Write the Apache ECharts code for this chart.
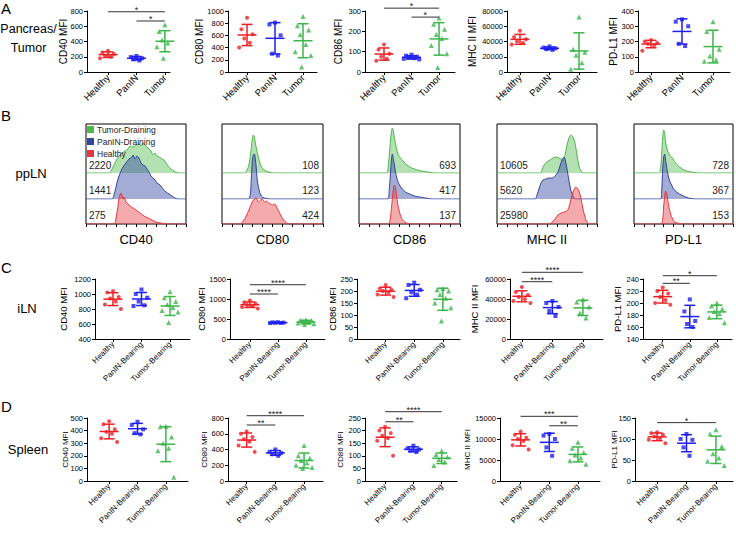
<!DOCTYPE html>
<html><head><meta charset="utf-8">
<script src="https://cdn.jsdelivr.net/npm/echarts@6/dist/echarts.min.js"></script>
<style>html,body{margin:0;padding:0;background:#fff}#c{width:736px;height:535px}</style>
</head><body><div id="c"></div>
<script>
// ================= DATA =================
const catsA = ['Healthy', 'PanIN', 'Tumor'];
const catsCD = ['Healthy', 'PanIN-Bearing', 'Tumor-Bearing'];

// Row A: Pancreas/Tumor  [Healthy, PanIN, Tumor]
const a_cd40 = [[280,255,235,215,200,180],[210,195,180,165,150],[620,530,470,420,380,330,300,180]];
const a_cd80 = [[890,700,620,550,480,400],[810,780,600,300,270],[910,760,690,610,450,330,270,80]];
const a_cd86 = [[135,110,90,75,65,55],[85,80,75,70,68,65,62],[265,235,210,185,165,130,90,22]];
const a_mhc  = [[54000,46000,43000,40000,38000,36000],[33500,32000,31000,30000,29000],[72000,30000,26000,22000,12000,3500]];
const a_pdl1 = [[210,200,190,185,175,140],[345,330,300,185,170],[330,265,150,105,80,70]];

// Row C: iLN
const c_cd40 = [[1040,1020,960,940,900,860,800],[1060,1000,950,900,850,840],[1030,950,900,860,820,780,760,620]];
const c_cd80 = [[960,920,880,850,830,800,760],[420,415,410,405,400,398],[480,470,460,430,420,400,380,360]];
const c_cd86 = [[225,210,205,200,195,185,175],[235,225,205,195,185,170],[210,205,200,185,170,150,130,75]];
const c_mhc  = [[52000,47000,44000,42000,40000,38000,36000],[38000,36000,32000,28000,23000],[39500,37000,32000,26000,21000]];
const c_pdl1 = [[226,220,216,210,205,200,197],[206,186,170,165,160],[200,195,190,186,182,176,167]];

// Row D: Spleen
const d_cd40 = [[475,450,410,390,375,340,310],[470,445,410,380,370],[435,430,350,300,260,240,30]];
const d_cd80 = [[630,600,560,530,500,450,370],[400,370,355,340,320],[450,320,290,260,230,200,170,160]];
const d_cd86 = [[215,200,190,180,170,160,100],[140,130,125,120,115],[120,105,95,85,75,62]];
const d_mhc  = [[11800,11000,10300,10000,9500,8500,7500],[11200,10800,10000,8000,6000],[9200,7800,6800,6200,5500,4800,4000]];
const d_pdl1 = [[116,114,110,106,102,98,90],[112,100,98,80,60],[122,112,82,65,55,47,37]];

// significance brackets: [fromGroup, toGroup, yValue, stars]
const a_cd40_sig = [[1,3,790,'*'],[2,3,669,'*']];
const a_cd86_sig = [[1,3,314,'*'],[2,3,270,'*']];
const c_cd80_sig = [[1,3,1357,'****'],[1,2,1125,'****']];
const c_mhc_sig  = [[1,3,66700,'****'],[1,2,57300,'****']];
const c_pdl1_sig = [[1,3,245.5,'*'],[1,2,232.8,'**']];
const d_cd80_sig = [[1,3,829,'****'],[1,2,711,'**']];
const d_cd86_sig = [[1,3,275,'****'],[1,2,235,'**']];
const d_mhc_sig  = [[1,3,15400,'***'],[2,3,13150,'**']];
const d_pdl1_sig = [[1,3,139,'*']];

// y axis ticks: [min, max, interval]
const a_ticks = [[0,800,200],[0,1000,200],[0,300,100],[0,80000,20000],[0,400,100]];
const c_ticks = [[400,1200,200],[0,1500,500],[0,250,50],[0,60000,20000],[140,240,20]];
const d_ticks = [[0,500,100],[0,800,200],[0,250,50],[0,15000,5000],[0,150,50]];
const axisNames = ['CD40 MFI','CD80 MFI','CD86 MFI','MHC II MFI','PD-L1 MFI'];

// Row B: ppLN histograms, [x (0-100 across box), height]
const h_cd40_tumor = [[0,0],[23,0],[25,2],[27,6],[30,12],[33,17],[36,20],[39,22],[42,24],[44,27],[47,26],[50,28],[53,29],[55,27],[57,30],[59,28],[61,26],[63,24],[65,22],[67,18],[69,20],[71,17],[73,16],[76,14],[78,13],[80,10],[82,7],[85,4],[88,2],[92,0],[100,0]];
const h_cd40_panin = [[0,0],[26,0],[28,4],[30,12],[32,20],[35,28],[37,32],[40,36],[43,40],[46,42],[47,44],[49,40],[51,43],[53,41],[55,36],[57,34],[59,33],[61,30],[63,27],[65,23],[67,21],[69,19],[71,16],[74,14],[77,10],[80,7],[83,5],[86,3],[89,1],[92,0],[100,0]];
const h_cd40_healthy = [[0,0],[28,0],[30,6],[32,18],[33,26],[35,31],[36,29],[37,25],[38,27],[40,22],[42,20],[44,18],[47,16],[50,14],[54,11],[58,8],[62,6],[66,4],[70,2],[75,1],[80,0],[100,0]];

const h_cd80_tumor = [[0,0],[22,0],[25,3],[27,10],[29,25],[30,34],[31,38],[32,36],[33,30],[35,20],[37,12],[39,6],[42,3],[46,1],[52,0],[100,0]];
const h_cd80_panin = [[0,0],[26,0],[28,5],[29,20],[30,38],[31,44],[32,45],[33,40],[34,30],[35,18],[37,8],[39,3],[42,1],[48,0],[100,0]];
const h_cd80_healthy = [[0,0],[18,0],[21,3],[24,8],[27,15],[30,22],[32,25],[34,26],[36,22],[38,24],[40,25],[42,22],[44,23],[46,21],[48,20],[50,19],[52,20],[55,15],[58,9],[61,4],[64,1],[68,0],[100,0]];

const h_cd86_tumor = [[0,0],[27,0],[29,8],[31,30],[32,40],[33,45],[34,42],[35,35],[37,25],[39,18],[41,15],[43,13],[46,9],[49,7],[52,5],[55,4],[58,3],[62,2],[68,1],[75,0],[100,0]];
const h_cd86_panin = [[0,0],[28,0],[30,10],[32,38],[33,45],[34,40],[36,28],[38,19],[40,14],[43,10],[46,7],[50,5],[55,3],[60,2],[66,1],[72,0],[100,0]];
const h_cd86_healthy = [[0,0],[29,0],[31,6],[33,25],[34,35],[35,39],[36,37],[37,30],[38,22],[40,12],[42,6],[44,3],[47,1],[52,0],[100,0]];

const h_mhc_tumor = [[0,0],[43,0],[45,3],[47,8],[50,11],[53,13],[56,15],[59,16],[62,15],[64,14],[66,12],[68,18],[70,28],[72,35],[74,38],[76,36],[78,30],[80,18],[82,7],[84,2],[87,0],[100,0]];
const h_mhc_panin = [[0,0],[38,0],[40,4],[42,10],[44,16],[46,19],[49,20],[52,21],[55,21],[58,23],[61,27],[63,33],[65,39],[67,42],[68,40],[70,30],[72,18],[74,8],[76,3],[78,0],[100,0]];
const h_mhc_healthy = [[0,0],[52,0],[55,2],[58,5],[61,9],[64,11],[67,12],[70,13],[72,17],[74,25],[76,32],[78,36],[79,37],[80,36],[82,33],[84,25],[86,15],[88,7],[90,2],[93,0],[100,0]];

const h_pdl1_tumor = [[0,0],[25,0],[27,6],[28,20],[29,35],[30,43],[31,40],[32,30],[34,22],[36,18],[38,16],[40,13],[42,10],[44,8],[46,6],[49,4],[53,2],[58,1],[65,0],[100,0]];
const h_pdl1_panin = [[0,0],[27,0],[28,8],[29,30],[30,42],[31,45],[32,38],[34,26],[36,18],[38,14],[40,10],[43,7],[46,5],[50,3],[55,1],[62,0],[100,0]];
const h_pdl1_healthy = [[0,0],[27,0],[29,5],[30,18],[31,28],[32,33],[33,31],[34,25],[35,18],[37,10],[39,5],[41,2],[44,1],[48,0],[100,0]];

const histMarkers = ['CD40','CD80','CD86','MHC II','PD-L1'];
const histMFI = [['2220','1441','275'],['108','123','424'],['693','417','137'],['10605','5620','25980'],['728','367','153']];
const histLegend = ['Tumor-Draining','PanIN-Draining','Healthy'];

// ================= LAYOUT / STYLE =================
const FONT = 'Liberation Sans, Arial, Helvetica, sans-serif';
const groupColors = ['#f01e23','#1e1ef0','#3ab54a'];
const groupSymbols = ['circle','rect','triangle'];
const jit = [0,-0.2,0.2,-0.1,0.1,-0.28,0.28,-0.05];

const rowA = {top:11, height:61, cats:catsA, tickFont:7.5, catFont:9.5, nameFont:10};
const rowC = {top:279, height:60, cats:catsCD, tickFont:7.5, catFont:8, nameFont:9.5};
const rowD = {top:418, height:63, cats:catsCD, tickFont:7.5, catFont:8, nameFont:8};

const panelsA = [
  {x:[87,170], xr:[0.26,3.18], gap:19, data:a_cd40, sig:a_cd40_sig},
  {x:[228,317], xr:[0.32,3.5], gap:24, data:a_cd80},
  {x:[365,455], xr:[0.31,3.58], gap:22, data:a_cd86, sig:a_cd86_sig},
  {x:[507,597], xr:[0.56,3.61], gap:30, data:a_mhc},
  {x:[638,730], xr:[0.58,3.55], gap:20, data:a_pdl1}
];
const panelsC = [
  {x:[95,190], xr:[0.37,3.7], gap:27, data:c_cd40},
  {x:[230,325], xr:[0.29,3.68], gap:24, data:c_cd80, sig:c_cd80_sig},
  {x:[357,460], xr:[0.0,3.6], gap:20, data:c_cd86},
  {x:[510,603], xr:[0.61,3.66], gap:31, data:c_mhc, sig:c_mhc_sig},
  {x:[643,732], xr:[0.27,3.56], gap:21, data:c_pdl1, sig:c_pdl1_sig}
];
const panelsD = [
  {x:[87,188], xr:[0.22,3.78], gap:18, data:d_cd40},
  {x:[228,323], xr:[0.35,3.66], gap:20, data:d_cd80, sig:d_cd80_sig},
  {x:[365,457], xr:[0.29,3.54], gap:21, data:d_cd86, sig:d_cd86_sig},
  {x:[500,600], xr:[0.28,3.77], gap:29, data:d_mhc, sig:d_mhc_sig},
  {x:[635,733], xr:[0.25,3.58], gap:17, data:d_pdl1, sig:d_pdl1_sig}
];

const boxes = [[86,186],[222,323],[359,460],[497,597],[634,733]];
const histTop = 124;
const histHeights = [49,75,100];
const histLine = ['#4cb848','#3446a0','#e8383d'];
const histFill = ['rgba(76,184,72,0.42)','rgba(52,70,160,0.45)','rgba(232,56,61,0.42)'];
const histCurves = [
  [h_cd40_tumor,h_cd40_panin,h_cd40_healthy],
  [h_cd80_tumor,h_cd80_panin,h_cd80_healthy],
  [h_cd86_tumor,h_cd86_panin,h_cd86_healthy],
  [h_mhc_tumor,h_mhc_panin,h_mhc_healthy],
  [h_pdl1_tumor,h_pdl1_panin,h_pdl1_healthy]
];

// ================= BUILD =================
const grids=[], xAxes=[], yAxes=[], series=[], graphics=[];
function addGrid(g, xa, ya){
  grids.push(Object.assign({outerBoundsMode:'none', containLabel:false}, g));
  const i = grids.length-1;
  xAxes.push(Object.assign({gridIndex:i}, xa));
  yAxes.push(Object.assign({gridIndex:i}, ya));
  return i;
}
function mean(a){ return a.reduce((s,v)=>s+v,0)/a.length; }
function sd(a){ const m=mean(a); return Math.sqrt(a.reduce((s,v)=>s+(v-m)*(v-m),0)/(a.length-1)); }

function addPanel(row, p, ticks, name){
  const gi = addGrid({left:p.x[0], top:row.top, width:p.x[1]-p.x[0], height:row.height},
    {type:'value', min:p.xr[0], max:p.xr[1], splitLine:{show:false},
     axisLine:{show:true, onZero:false, lineStyle:{color:'#000', width:1}},
     axisTick:{show:true, customValues:[1,2,3], length:3, lineStyle:{color:'#000'}},
     axisLabel:{show:true, customValues:[1,2,3], rotate:45, fontSize:row.catFont, color:'#000', margin:4, fontFamily:FONT,
       formatter:v=>row.cats[Math.round(v)-1]||''}},
    {type:'value', min:ticks[0], max:ticks[1], interval:ticks[2], splitLine:{show:false},
     axisLine:{show:true, onZero:false, lineStyle:{color:'#000', width:1}},
     axisTick:{show:true, length:3, lineStyle:{color:'#000'}},
     axisLabel:{fontSize:row.tickFont, color:'#000', margin:4, fontFamily:FONT, formatter:v=>String(v)},
     name:name, nameLocation:'middle', nameGap:p.gap, nameRotate:90, nameMoveOverlap:false,
     nameTextStyle:{fontSize:row.nameFont, color:'#000', fontFamily:FONT}});
  p.data.forEach((vals,g)=>{
    series.push({type:'scatter', name:'pt'+g, xAxisIndex:gi, yAxisIndex:gi, symbol:groupSymbols[g], symbolSize:g===2?5:4,
      itemStyle:{color:groupColors[g]}, silent:true, z:3,
      data: vals.map((v,i)=>[g+1+jit[i%jit.length], v])});
  });
  const stats = p.data.map((vals,g)=>[g+1, mean(vals), sd(vals), g]);
  series.push({type:'custom', xAxisIndex:gi, yAxisIndex:gi, silent:true, clip:false, z:4, data:stats,
    renderItem:(params, api)=>{
      const x=api.value(0), m=api.value(1), s=api.value(2), g=api.value(3);
      const c=api.coord([x,m]), hi=api.coord([x,m+s]), lo=api.coord([x,m-s]);
      const st={stroke:groupColors[g], lineWidth:1.5};
      return {type:'group', children:[
        {type:'line', shape:{x1:c[0]-9.5,y1:c[1],x2:c[0]+9.5,y2:c[1]}, style:st},
        {type:'line', shape:{x1:c[0],y1:hi[1],x2:c[0],y2:lo[1]}, style:st},
        {type:'line', shape:{x1:c[0]-5.5,y1:hi[1],x2:c[0]+5.5,y2:hi[1]}, style:st},
        {type:'line', shape:{x1:c[0]-5.5,y1:lo[1],x2:c[0]+5.5,y2:lo[1]}, style:st}
      ]};
    }});
  if (p.sig){
    const sig = p.sig;
    series.push({type:'custom', xAxisIndex:gi, yAxisIndex:gi, silent:true, clip:false, z:4,
      data: sig.map((s,i)=>[s[0], s[2], s[1], i]),
      renderItem:(params, api)=>{
        const a=api.coord([api.value(0), api.value(1)]), b=api.coord([api.value(2), api.value(1)]);
        const lbl = sig[api.value(3)][3];
        return {type:'group', children:[
          {type:'line', shape:{x1:a[0],y1:a[1],x2:b[0],y2:b[1]}, style:{stroke:'#333', lineWidth:1}},
          {type:'text', style:{text:lbl, x:(a[0]+b[0])/2, y:a[1]-2, textAlign:'center', textVerticalAlign:'middle', align:'center', verticalAlign:'middle', fontSize:9, fontFamily:FONT, fill:'#222'}}
        ]};
      }});
  }
}
panelsA.forEach((p,i)=>addPanel(rowA,p,a_ticks[i],axisNames[i]));
panelsC.forEach((p,i)=>addPanel(rowC,p,c_ticks[i],axisNames[i]));
panelsD.forEach((p,i)=>addPanel(rowD,p,d_ticks[i],axisNames[i]));

// histograms
boxes.forEach((b,pi)=>{
  [0,1,2].forEach(k=>{
    const isBase = k===2;
    const gi = addGrid({left:b[0], top:histTop, width:b[1]-b[0], height:histHeights[k],
        show:isBase, borderColor:'#000', borderWidth:1, backgroundColor:'transparent'},
      {type:'value', min:0, max:100, interval:10, show:isBase, splitLine:{show:false},
       axisLine:{show:false}, axisLabel:{show:false},
       axisTick:{show:true, inside:false, length:3, lineStyle:{color:'#000'}}},
      {type:'value', min:0, max:histHeights[k], show:false, splitLine:{show:false}});
    series.push({type:'line', name:histLegend[k], xAxisIndex:gi, yAxisIndex:gi, data:histCurves[pi][k],
      showSymbol:false, symbol:'none', smooth:0.3, silent:true, z:2+k,
      lineStyle:{color:histLine[k], width:1}, itemStyle:{color:histLine[k]},
      areaStyle:{color:histFill[k], opacity:1}});
  });
  const cx = (b[0]+b[1])/2;
  graphics.push({type:'text', x:cx, y:239, silent:true, style:{text:histMarkers[pi], fontSize:13, fontFamily:FONT, fill:'#000', textAlign:'center', textVerticalAlign:'middle'}});
  const leftAligned = (pi===0 || pi===3);
  [165,190,215].forEach((yy,k)=>{
    graphics.push({type:'text', x: leftAligned ? b[0]+3 : b[1]-4, y:yy, silent:true,
      style:{text:histMFI[pi][k], fontSize:10, fontFamily:FONT, fill:'#222', textAlign: leftAligned?'left':'right', textVerticalAlign:'middle'}});
  });
});

// panel letters & row names
function txt(x,y,text,size,align){
  graphics.push({type:'text', x, y, silent:true, style:{text, fontSize:size, fontFamily:FONT, fill:'#000', textAlign:align||'left', textVerticalAlign:'middle'}});
}
txt(1,8.5,'A',15); txt(1,115,'B',15); txt(1,267.5,'C',15); txt(1,406,'D',15);
txt(28.5,29,'Pancreas/',12.5,'center'); txt(28.5,48,'Tumor',12.5,'center');
txt(31,173,'ppLN',13,'center');
txt(27,308,'iLN',13,'center');
txt(28,449,'Spleen',13,'center');

const chart = echarts.init(document.getElementById('c'), null, {renderer:'svg', width:736, height:535});
chart.setOption({
  animation:false,
  backgroundColor:'#fff',
  textStyle:{fontFamily:FONT},
  legend:{data:histLegend, left:86, top:125, orient:'vertical', icon:'rect', itemWidth:7, itemHeight:7, itemGap:3,
    padding:[0,0,0,1], selectedMode:false, textStyle:{fontSize:8.5, color:'#222', fontFamily:FONT, padding:[0,0,0,-2]}},
  grid:grids, xAxis:xAxes, yAxis:yAxes, series:series, graphic:graphics
});
</script>
</body></html>
